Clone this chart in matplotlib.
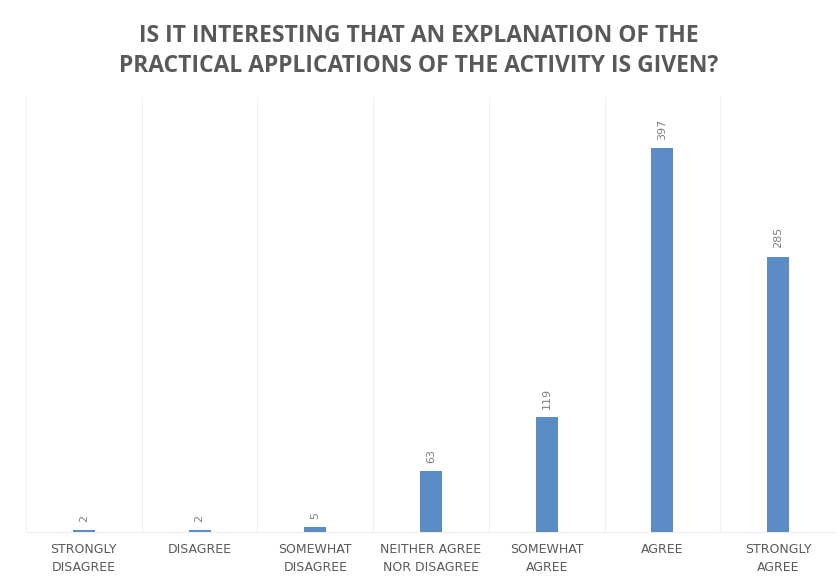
import matplotlib
matplotlib.use("Agg")
import matplotlib.pyplot as plt

categories = ["STRONGLY\nDISAGREE", "DISAGREE", "SOMEWHAT\nDISAGREE",
              "NEITHER AGREE\nNOR DISAGREE", "SOMEWHAT\nAGREE", "AGREE",
              "STRONGLY\nAGREE"]
values = [2, 2, 5, 63, 119, 397, 285]
title = "IS IT INTERESTING THAT AN EXPLANATION OF THE\nPRACTICAL APPLICATIONS OF THE ACTIVITY IS GIVEN?"

fig = plt.figure(figsize=(8.38, 5.78), dpi=100)
ax = fig.add_axes([26/838, (578-532)/578, (836-26)/838, (532-97)/578])

x = list(range(len(categories)))
bar_color = "#5B8CC6"
ax.bar(x, values, width=0.19, color=bar_color, zorder=3)
ax.set_xlim(-0.5, len(categories) - 0.5)
ax.set_ylim(0, 450)

for xi, v in zip(x, values):
    ax.annotate(str(v), (xi, v), xytext=(0, 6), textcoords="offset points",
                rotation=90, ha="center", va="bottom", fontsize=8, color="#7F7F7F")

for b in range(len(categories) + 1):
    ax.axvline(b - 0.5, color="#F0F0F0", lw=0.8, zorder=0)

ax.set_xticks(x)
ax.set_xticklabels(categories, fontsize=9, color="#595959", linespacing=1.5)
ax.tick_params(axis="x", length=0, pad=8)
ax.set_yticks([])
for s in ax.spines.values():
    s.set_visible(False)
ax.spines["bottom"].set_visible(True)
ax.spines["bottom"].set_color("#EDEDED")

fig.text(0.5, 1 - 51/578, title, ha="center", va="center", fontsize=16.5,
         fontweight="bold", color="#595959", fontstretch="normal",
         family=["Open Sans", "DejaVu Sans"],
         linespacing=1.3)

fig.savefig("out.png", dpi=100)
